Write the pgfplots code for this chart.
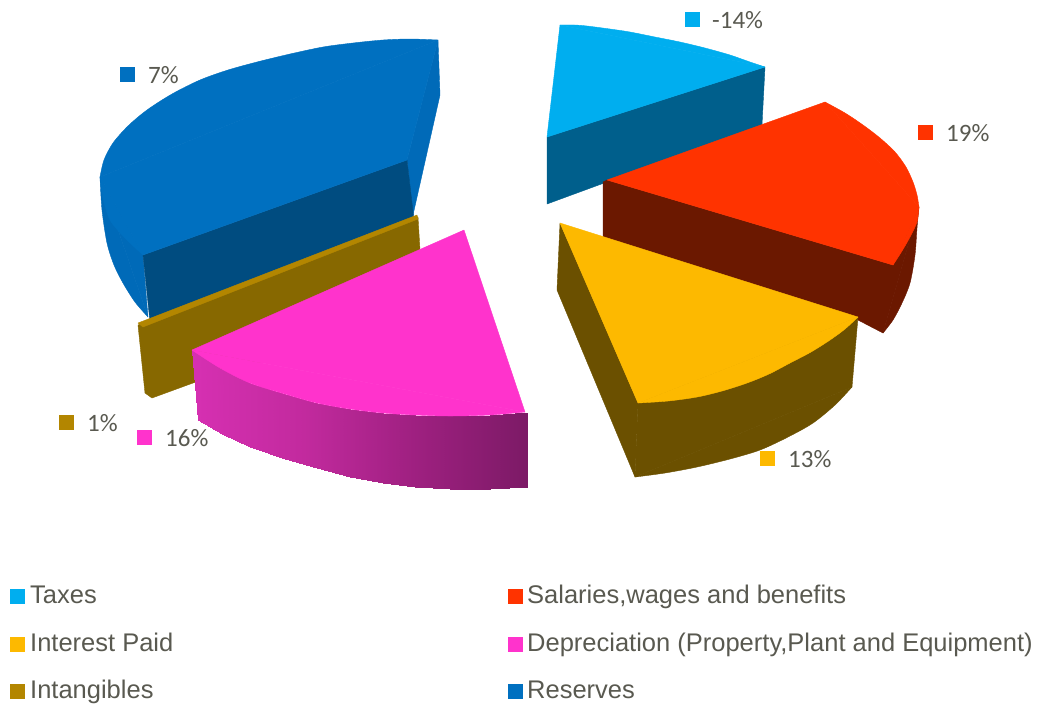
\documentclass[border=0pt]{standalone}
\usepackage{pgfplots}
\pgfplotsset{compat=1.18}
\usepackage{fontspec}
\setmainfont{Liberation Sans}
\newfontfamily\lab{Carlito}
\definecolor{txt}{HTML}{595950}
\definecolor{cTax}{HTML}{00AEEF}
\definecolor{cTaxS}{HTML}{005F8C}
\definecolor{cSal}{HTML}{FF3300}
\definecolor{cSalS}{HTML}{6B1800}
\definecolor{cInt}{HTML}{FDB900}
\definecolor{cIntS}{HTML}{6B5000}
\definecolor{cDep}{HTML}{FF33CC}
\definecolor{cTan}{HTML}{B38600}
\definecolor{cTanS}{HTML}{876800}
\definecolor{cRes}{HTML}{0070C0}
\definecolor{cResS}{HTML}{006AB8}
\definecolor{cResD}{HTML}{004C80}
\pgfplotsset{colormap={pinkside}{rgb255=(214,48,178) rgb255=(194,42,158) rgb255=(158,32,128) rgb255=(124,26,102)}}
\tikzset{
  face/.style={fill=#1,draw=#1,line width=0.4pt,line join=round},
  dl/.style={anchor=west,text=txt,inner sep=0pt,font=\lab\fontsize{25}{29}\selectfont},
  ll/.style={anchor=base west,text=txt,inner sep=0pt,font=\fontsize{25.5}{30}\selectfont}
}
\newcommand{\sq}[3]{\addplot[only marks,mark=square*,mark size=7pt,mark options={fill=#1,draw=#1,line width=0pt}] coordinates {(#2,#3)};}
\begin{document}
\begin{tikzpicture}
\useasboundingbox (-519pt,-352.5pt) rectangle (519pt,352.5pt);
\begin{axis}[at={(0,0)},anchor=center,scale only axis,width=1038pt,height=705pt,
  xmin=0,xmax=1038,ymin=0,ymax=705,y dir=reverse,hide axis,clip=false]
% Taxes
\addplot[face=cTaxS] coordinates {(547,137)(765,67)(762,125)(547,204)} -- cycle;
\addplot[face=cTax] coordinates {(547,137)(560,25)(765,67)} -- cycle;
\addplot[face=cTax,smooth] coordinates {(560,25)(575,25)(587,26)(610,29)(630,32)(655,37)(680,42)(705,48)(730,55)(750,62)(765,67)} -- cycle;
% Reserves
\addplot[face=cResS] coordinates {(100,177)(148,317)(143,255)} -- cycle;
\addplot[face=cResS,smooth] coordinates {(100,177)(102,210)(107,243)(114,265)(123,283)(135,302)(148,317)} -- cycle;
\addplot[face=cResS] coordinates {(438,40)(440,95)(413,215)(407,160)} -- cycle;
\addplot[face=cResD] coordinates {(143,255)(407,160)(414,220)(150,322)} -- cycle;
\addplot[face=cRes] coordinates {(438,40)(100,177)(143,255)(407,160)} -- cycle;
\addplot[face=cRes,smooth] coordinates {(438,40)(410,39)(383,40)(353,43)(323,47)(290,54)(257,62)(228,70)(200,80)(172,94)(147,110)(128,126)(113,143)(104,160)(100,177)} -- cycle;
\addplot[face=cRes,smooth] coordinates {(100,177)(103,198)(110,220)(125,238)(143,255)} -- cycle;
% Salaries
\addplot[face=cSalS] coordinates {(607,180)(893,265)(919,207)(883,333)(858,320)(603,237)(603,182)} -- cycle;
\addplot[face=cSalS,smooth] coordinates {(919,207)(917,228)(915,255)(910,283)(902,303)(893,320)(883,333)} -- cycle;
\addplot[face=cSal] coordinates {(607,180)(825,102)(919,207)(893,265)} -- cycle;
\addplot[face=cSal,smooth] coordinates {(825,102)(845,113)(863,125)(880,138)(895,152)(906,167)(913,182)(917,195)(919,207)} -- cycle;
\addplot[face=cSal,smooth] coordinates {(919,207)(917,222)(910,237)(902,251)(893,265)} -- cycle;
% Intangibles
\addplot[face=cTanS] coordinates {(138,325)(418,217)(420,250)(300,350)(193,383)(152,398)(145,393)} -- cycle;
\addplot[face=cTan] coordinates {(138,323)(417,215)(418,219)(143,327)} -- cycle;
% Depreciation
\addplot[patch,patch type=rectangle,shader=interp,point meta=x] coordinates {
(192,350)(220,368)(222,434)(198,420)
(220,368)(250,383)(250,447)(222,434)
(250,383)(285,394)(285,459)(250,447)
(285,394)(317,403)(317,468)(285,459)
(317,403)(350,409)(350,477)(317,468)
(350,409)(383,413)(383,483)(350,477)
(383,413)(415,415)(415,487)(383,483)
(415,415)(450,416)(450,489)(415,487)
(450,416)(490,415)(490,489)(450,489)
(490,415)(528,412)(527,487)(490,489)};
\addplot[face=cDep] coordinates {(464,230)(192,350)(525,412)} -- cycle;
\addplot[face=cDep,smooth] coordinates {(192,350)(220,368)(250,383)(285,394)(317,403)(350,409)(383,413)(415,415)(450,416)(490,415)(525,412)} -- cycle;
% Interest Paid
\addplot[face=cIntS] coordinates {(560,223)(638,403)(635,477)(557,290)} -- cycle;
\addplot[face=cIntS] coordinates {(638,403)(858,317)(852,387)(635,477)} -- cycle;
\addplot[face=cIntS,smooth] coordinates {(635,477)(665,473)(697,467)(730,459)(760,450)(788,437)(813,423)(835,405)(852,387)} -- cycle;
\addplot[face=cIntS,smooth] coordinates {(638,403)(668,401)(697,397)(722,391)(747,383)(769,374)(790,363)(811,352)(830,340)(845,329)(858,317)} -- cycle;
\addplot[face=cInt] coordinates {(560,223)(858,317)(638,403)} -- cycle;
\addplot[face=cInt,smooth] coordinates {(858,317)(845,329)(830,340)(811,352)(790,363)(769,374)(747,383)(722,391)(697,397)(668,401)(638,403)} -- cycle;
% data labels
\sq{cTax}{692.5}{19} \sq{cSal}{925.5}{132} \sq{cInt}{767.5}{458}
\sq{cDep}{144.5}{437} \sq{cTan}{66.5}{422} \sq{cRes}{127.5}{74}
\node[dl] at (axis cs:712,20) {-14\%};
\node[dl] at (axis cs:946,133) {19\%};
\node[dl] at (axis cs:788,459) {13\%};
\node[dl] at (axis cs:165,438) {16\%};
\node[dl] at (axis cs:87,423) {1\%};
\node[dl] at (axis cs:148,75) {7\%};
% legend
\sq{cTax}{17.5}{596} \sq{cSal}{515.5}{596}
\sq{cInt}{17.5}{644} \sq{cDep}{515.5}{644}
\sq{cTan}{17.5}{691} \sq{cRes}{515.5}{691}
\node[ll] at (axis cs:30,603) {Taxes};
\node[ll] at (axis cs:527,603) {Salaries,wages and benefits};
\node[ll] at (axis cs:30,651) {Interest Paid};
\node[ll] at (axis cs:527,651) {Depreciation (Property,Plant and Equipment)};
\node[ll] at (axis cs:30,698) {Intangibles};
\node[ll] at (axis cs:527,698) {Reserves};
\end{axis}
\end{tikzpicture}
\end{document}
